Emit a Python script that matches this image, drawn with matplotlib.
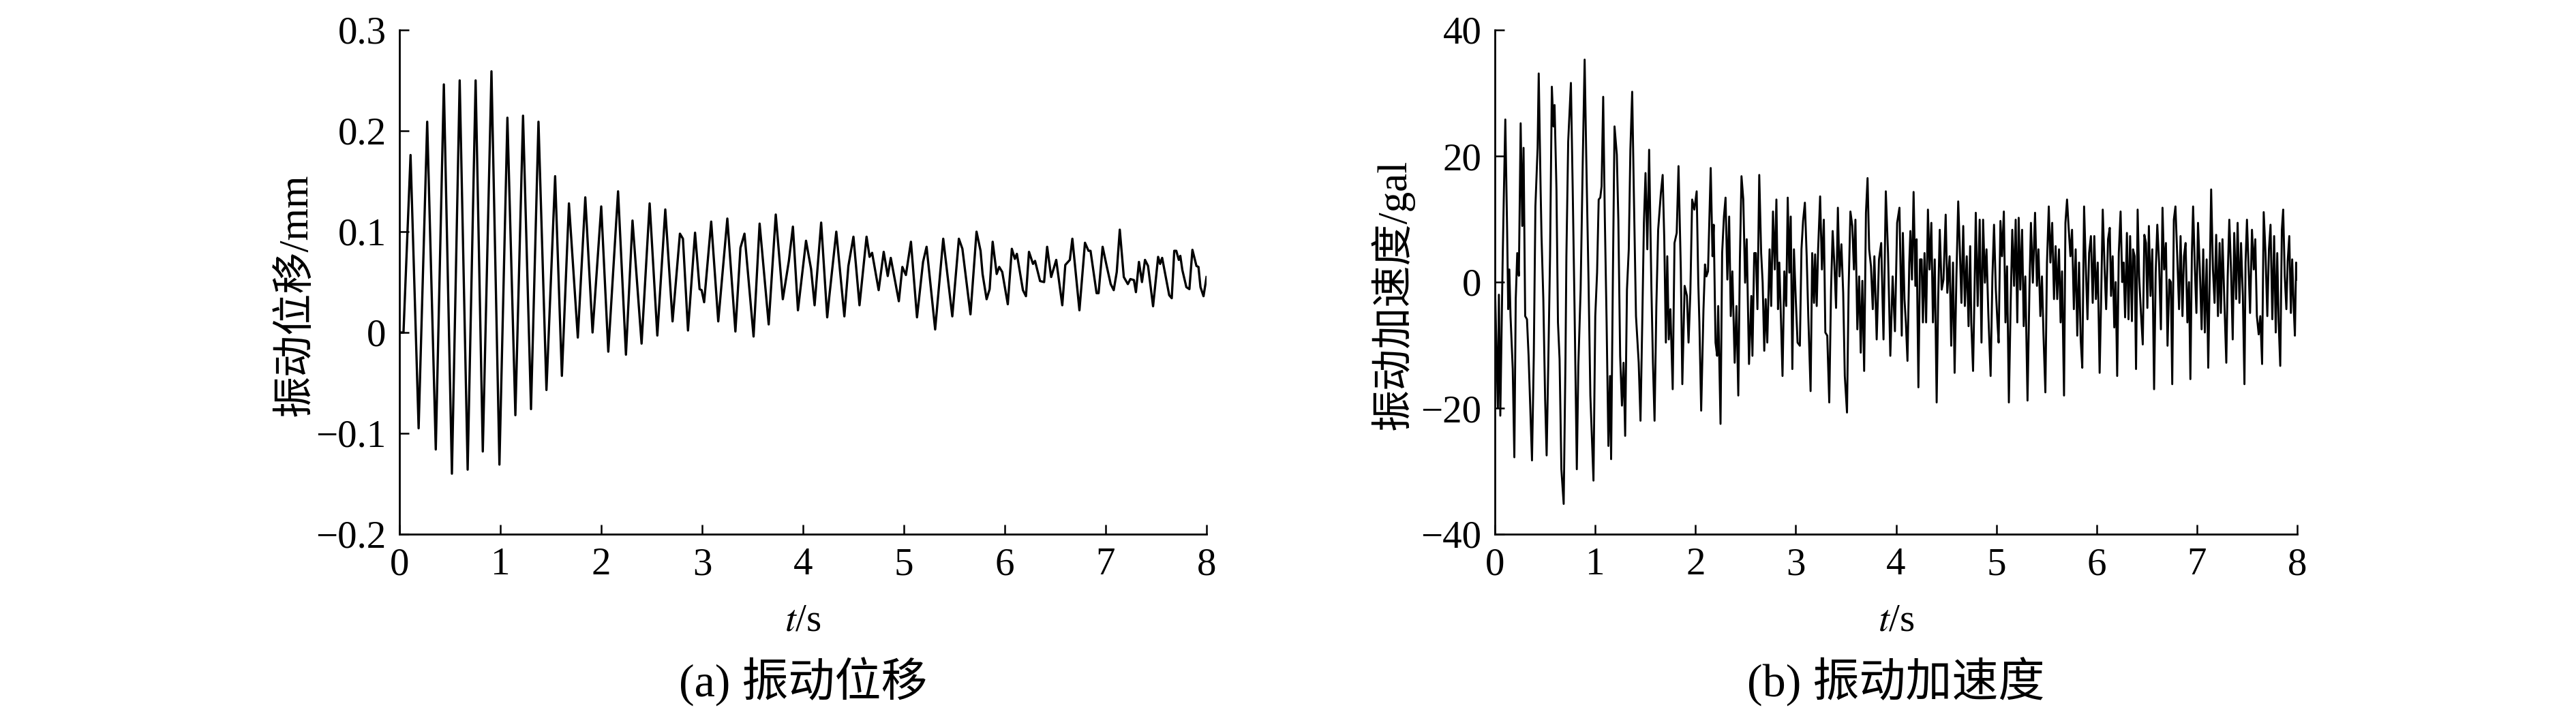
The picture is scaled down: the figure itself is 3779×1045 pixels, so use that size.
import matplotlib
matplotlib.use("Agg")
import matplotlib.pyplot as plt
from matplotlib.ticker import FuncFormatter

plt.rcParams['font.family'] = ['Liberation Serif', 'Noto Sans CJK SC']
plt.rcParams['mathtext.fontset'] = 'stix'
plt.rcParams['axes.unicode_minus'] = True

# (a) vibration displacement: time (s), displacement (mm)
disp_t = [0.00, 0.04, 0.11, 0.19, 0.275, 0.36, 0.44, 0.52, 0.597, 0.676, 0.755, 0.826, 0.912, 0.991,
          1.07, 1.149, 1.225, 1.304, 1.378, 1.457, 1.543, 1.61, 1.68, 1.768, 1.842, 1.914,
          2.00, 2.07, 2.167, 2.245, 2.31, 2.40, 2.48, 2.556, 2.635, 2.707, 2.78, 2.81, 2.86, 2.93,
          2.975, 2.995, 3.02, 3.09, 3.16, 3.25, 3.33, 3.38, 3.42, 3.51, 3.57, 3.66, 3.73, 3.80,
          3.86, 3.90, 3.95, 4.03, 4.08, 4.115, 4.18, 4.24, 4.26, 4.33, 4.41, 4.45, 4.50, 4.56,
          4.63, 4.66, 4.685, 4.75, 4.80, 4.84, 4.87, 4.95, 4.985, 5.02, 5.07, 5.13, 5.19, 5.225,
          5.31, 5.39, 5.48, 5.545, 5.58, 5.66, 5.72, 5.76, 5.78, 5.82, 5.85, 5.88, 5.92, 5.945,
          5.975, 6.03, 6.07, 6.10, 6.12, 6.18, 6.21, 6.24, 6.28, 6.30, 6.35, 6.39, 6.42, 6.46,
          6.51, 6.57, 6.60, 6.645, 6.67, 6.74, 6.795, 6.83, 6.85, 6.91, 6.93, 6.97, 7.01, 7.05,
          7.08, 7.11, 7.14, 7.18, 7.22, 7.245, 7.28, 7.30, 7.33, 7.36, 7.39, 7.42, 7.47, 7.52,
          7.54, 7.56, 7.63, 7.655, 7.68, 7.70, 7.725, 7.74, 7.76, 7.80, 7.83, 7.86, 7.90, 7.92,
          7.94, 7.97, 8.00]
disp_v = [0.0, 0.0, 0.176, -0.095, 0.209, -0.116, 0.246, -0.140, 0.250, -0.136, 0.250, -0.118, 0.259, -0.131,
          0.213, -0.082, 0.215, -0.076, 0.209, -0.057, 0.155, -0.043, 0.128, -0.005, 0.134, 0.000,
          0.125, -0.019, 0.140, -0.022, 0.111, -0.011, 0.128, -0.003, 0.122, 0.011, 0.098, 0.093, 0.002, 0.099,
          0.043, 0.042, 0.030, 0.110, 0.011, 0.113, 0.001, 0.084, 0.098, -0.004, 0.108, 0.008, 0.117, 0.033,
          0.071, 0.105, 0.022, 0.091, 0.063, 0.027, 0.109, 0.015, 0.035, 0.100, 0.016, 0.066, 0.095, 0.027,
          0.095, 0.075, 0.079, 0.042, 0.080, 0.056, 0.074, 0.031, 0.065, 0.057, 0.090, 0.015, 0.070, 0.085,
          0.003, 0.093, 0.016, 0.093, 0.083, 0.018, 0.100, 0.081, 0.058, 0.033, 0.043, 0.090, 0.058, 0.065,
          0.060, 0.028, 0.083, 0.073, 0.078, 0.042, 0.036, 0.080, 0.068, 0.071, 0.051, 0.050, 0.085, 0.055,
          0.072, 0.027, 0.067, 0.072, 0.093, 0.022, 0.089, 0.081, 0.081, 0.039, 0.039, 0.085, 0.066, 0.048,
          0.042, 0.060, 0.102, 0.055, 0.048, 0.053, 0.052, 0.040, 0.070, 0.050, 0.072, 0.066, 0.026, 0.075,
          0.068, 0.074, 0.037, 0.034, 0.081, 0.081, 0.072, 0.076, 0.062, 0.045, 0.043, 0.082, 0.066, 0.065,
          0.045, 0.036, 0.055]

# (b) vibration acceleration: time (s), acceleration (gal)
acc_t = [0.0, 0.03, 0.04, 0.054, 0.077, 0.088, 0.104, 0.122, 0.133, 0.144, 0.156, 0.178, 0.194, 0.208,
         0.223, 0.239, 0.257, 0.273, 0.286, 0.302, 0.320, 0.336, 0.370, 0.388, 0.404, 0.426, 0.437,
         0.456, 0.465, 0.483, 0.501, 0.516, 0.532, 0.550, 0.568, 0.584, 0.595, 0.614, 0.629, 0.645,
         0.663, 0.686, 0.704, 0.713, 0.731, 0.758, 0.776, 0.794, 0.817, 0.832, 0.855, 0.877, 0.895,
         0.911, 0.934, 0.952, 0.983, 1.001, 1.019, 1.035, 1.051, 1.064, 1.080, 1.096, 1.114, 1.132,
         1.148, 1.159, 1.177, 1.193, 1.216, 1.231, 1.249, 1.267, 1.283, 1.299, 1.317, 1.335, 1.351,
         1.369, 1.385, 1.407, 1.434, 1.452, 1.470, 1.486, 1.502, 1.520, 1.538, 1.561, 1.576, 1.592,
         1.610, 1.628, 1.655, 1.673, 1.689, 1.705, 1.719, 1.734, 1.750, 1.773, 1.791, 1.813, 1.831,
         1.854, 1.869, 1.892, 1.915, 1.931, 1.949, 1.967, 1.989, 2.012, 2.028, 2.039, 2.057,
         2.080, 2.095, 2.109, 2.125, 2.136, 2.152, 2.170, 2.182, 2.200, 2.216, 2.227, 2.250, 2.266,
         2.284, 2.300, 2.318, 2.336, 2.352, 2.368, 2.391, 2.409, 2.427, 2.443, 2.459, 2.477, 2.495,
         2.511, 2.534, 2.557, 2.568, 2.586, 2.602, 2.618, 2.636, 2.655, 2.670, 2.686, 2.700, 2.716,
         2.739, 2.755, 2.773, 2.791, 2.807, 2.823, 2.836, 2.852, 2.868, 2.886, 2.905, 2.920, 2.936,
         2.950, 2.966, 2.982, 3.000, 3.018, 3.041, 3.057, 3.073, 3.091, 3.109, 3.125, 3.148, 3.164,
         3.182, 3.193, 3.209, 3.223, 3.243, 3.261, 3.280, 3.295, 3.314, 3.334, 3.352, 3.368, 3.386,
         3.402, 3.420, 3.436, 3.455, 3.473, 3.489, 3.511, 3.527, 3.545, 3.564, 3.580, 3.595, 3.614,
         3.632, 3.648, 3.664, 3.682, 3.700, 3.716, 3.732, 3.750, 3.768, 3.784, 3.807, 3.830, 3.852,
         3.875, 3.898, 3.920, 3.943, 3.966, 3.989, 4.011, 4.034, 4.057, 4.068,
         4.084, 4.098, 4.114, 4.132, 4.143, 4.159, 4.175, 4.193, 4.205, 4.223, 4.239, 4.255, 4.268,
         4.284, 4.300, 4.318, 4.334, 4.352, 4.368, 4.386, 4.405, 4.420, 4.436, 4.455, 4.473, 4.495,
         4.511, 4.534, 4.550, 4.568, 4.584, 4.602, 4.620, 4.636, 4.652, 4.670, 4.686, 4.705, 4.723,
         4.739, 4.750, 4.768, 4.784, 4.795, 4.814, 4.834, 4.852, 4.868, 4.886, 4.902, 4.920, 4.943,
         4.961, 4.977, 4.995, 5.011, 5.023, 5.041, 5.057, 5.075, 5.091, 5.107, 5.125, 5.143, 5.159,
         5.177, 5.193, 5.209, 5.223, 5.239, 5.257, 5.273, 5.289, 5.311, 5.330, 5.345, 5.364, 5.386,
         5.405, 5.420, 5.439, 5.455, 5.470, 5.489, 5.505, 5.523, 5.539, 5.557, 5.575, 5.591, 5.607,
         5.625, 5.641, 5.655, 5.675, 5.689, 5.705, 5.720, 5.739, 5.755, 5.773, 5.791, 5.807, 5.825,
         5.841, 5.857, 5.875, 5.891, 5.909, 5.925, 5.943, 5.961, 5.977, 5.993, 6.011, 6.030, 6.045,
         6.061, 6.080, 6.095, 6.114,
         6.131, 6.144, 6.160, 6.176, 6.190, 6.205, 6.221, 6.239, 6.255, 6.269, 6.284, 6.302, 6.318,
         6.334, 6.352, 6.363, 6.379, 6.393, 6.409, 6.424, 6.442, 6.460, 6.476, 6.492, 6.506, 6.521,
         6.537, 6.555, 6.573, 6.589, 6.605, 6.623, 6.641, 6.657, 6.673, 6.691, 6.707, 6.725, 6.740,
         6.754, 6.770, 6.786, 6.804, 6.822, 6.837, 6.856, 6.871, 6.887, 6.905, 6.921, 6.935, 6.950,
         6.962, 6.980, 6.995, 7.011, 7.029, 7.047, 7.063, 7.079, 7.097, 7.113, 7.131, 7.142, 7.160,
         7.176, 7.192, 7.210, 7.226, 7.239, 7.255, 7.273, 7.293, 7.307, 7.323, 7.341, 7.357, 7.372,
         7.391, 7.406, 7.424, 7.440, 7.458, 7.474, 7.485, 7.499, 7.515, 7.530, 7.549, 7.567, 7.582,
         7.598, 7.616, 7.632, 7.650, 7.666, 7.684, 7.702, 7.718, 7.734, 7.752, 7.770, 7.786, 7.801,
         7.815, 7.831, 7.847, 7.860, 7.876, 7.892, 7.905, 7.921, 7.937, 7.950, 7.966, 7.977, 7.989,
         8.000]
acc_v = [0.0, -20.0, -2.0, -21.2, 3.0, 12.6, 25.8, 8.3, -4.3, 2.0, -5.4, -13.8, -27.8, -2.7,
         4.6, 1.0, 25.2, 8.9, 21.3, -5.4, -5.9, -11.7, -28.3, -11.7, 12.0, 21.3, 33.1,
         14.7, 7.3, -2.7, -18.6, -27.5, -13.3, 4.1, 31.0, 24.7, 28.1, 14.7, -6.4, -12.2,
         -29.7, -35.2, -12.2, 4.1, 22.3, 31.6, 14.7, -3.8, -29.7, -13.3, -1.2, 19.9, 35.3,
         19.9, 0.0, -18.0, -31.5, -5.4, 1.5, 13.1, 13.4, 15.2, 29.4, 10.4, -6.4, -26.0,
         -14.9, -28.1, 1.5, 24.7, 20.2, 9.9, -11.7, -19.6, -12.8, -24.4, -1.2, 5.2, 21.0,
         30.2, 14.7, -5.4, -12.8, -22.0, -5.9, 9.4, 17.3, 5.2, 21.0, -1.2, -12.8, -22.0,
         -3.8, 8.3, 14.1, 17.0, 6.8, -9.6, 4.1, -9.1, -4.3, -17.0, 6.2, 7.8, 18.4,
         2.0, -16.2, -0.6, -2.2, -9.6, -1.7, 13.1, 11.5, 14.4, 0.0, -6.4, -20.4,
         -4.3, 2.8, 0.9, 1.7, 8.3, 18.1, 4.1, 9.1, -9.6, -11.7, -3.8, -22.5, 4.6,
         10.4, 13.4, 0.4, 10.4, -5.4, 1.7, -12.8, -3.8, -18.0, 3.6, 16.8, 13.1, -0.1,
         6.8, -13.0, -2.2, -11.7, 4.6, 4.6, -4.3, 17.0, 4.6, -0.1, -10.9, -2.7, -9.6,
         5.2, -3.8, 11.2, 2.0, 13.1, -4.3, 3.1, -5.6, -14.9, 1.7, -3.8, 13.4, 1.5,
         10.4, -13.8, 5.2, -2.7, -9.6, -10.1, 5.2, 9.7, 12.6, 4.1, -5.4, -17.3, 4.6,
         -3.3, 4.4, -3.8, 5.2, 13.6, 2.0, 9.9, -8.0, -8.5, -19.1, -1.2, 8.1, 2.5,
         -4.1, 11.8, 0.9, 6.0, -1.7, -14.9, -20.7, -1.2, 11.2, 8.9, 2.0, 9.9, -7.5,
         0.9, -11.2, 0.2, -14.1, 11.0, 16.5, 5.2, 2.5, -4.3, 4.1, -9.1, 3.6, 6.2,
         -9.1, 14.4, 4.6, -11.7, 0.9, -7.8, 9.4, 11.8, -8.5, 7.8,
         -2.7, -6.4, -12.5, 3.1, 8.1, 0.4, 14.3, -0.6, 6.8, -16.7, 3.6, 3.6, -6.4,
         4.6, -6.4, 11.5, 2.0, 9.4, -6.4, 3.6, -19.1, -2.7, 8.3, -1.2, 0.4, 10.7,
         -1.7, 4.1, -10.1, 3.1, -14.4, 0.9, 12.8, 5.2, -3.3, 8.9, -3.8, 4.1, -7.0,
         5.7, -6.4, -14.1, -0.1, 11.0, -3.8, 9.9, -9.6, 9.9, -0.1, 5.2, -4.9, -14.9,
         0.9, 9.1, -1.2, -6.4, -9.6, 9.7, 4.1, 11.2, -6.4, 2.5, -19.1, -3.3, 8.3,
         -0.6, 9.9, -6.4, 10.2, -1.2, 8.3, -7.0, 0.9, -18.8, -1.2, 9.4, -0.1, 11.0,
         -0.6, 5.2, -5.4, 0.9, -8.3, -17.5, 3.1, 12.0, 3.1, 9.4, -2.7, 5.7, -2.7,
         5.2, -6.4, 1.7, -18.0, 9.4, 13.1, 8.9, 4.1, 8.3, -4.3, 5.2, -8.5, 3.1,
         -9.1, -13.6, 12.0, 3.1, -5.9, 4.6, 7.3, -3.3, 7.3, -2.7, 3.1, -14.4, -2.7,
         11.5, 2.0, -4.3, 6.8,
         8.6, -2.2, 4.1, -7.2, 0.0, -14.9, 4.6, 11.2, 0.0, 3.1, -5.6, 7.8, -5.9,
         7.3, -6.2, 5.2, 4.1, -13.8, 11.5, 0.9, -4.9, -9.9, 7.5, 6.2, -4.1, 8.9,
         -2.2, 5.2, -17.0, 1.5, 9.1, 3.1, -7.5, 11.8, 2.0, 6.2, -10.1, 0.4, 0.0,
         -16.2, 9.9, 12.0, 4.1, -4.3, 7.3, -5.4, 4.1, 6.2, -6.4, 0.0, -15.4, 4.6,
         12.0, 2.0, -4.9, 9.4, 2.0, -7.5, 5.2, -8.0, 3.6, -13.6, 4.1, 14.7, 2.0,
         -3.3, 7.5, -5.4, 6.2, -4.9, 6.8, -2.7, -12.8, 0.9, 9.9, 1.5, -9.1, 7.8,
         -2.7, 9.4, -3.3, 6.2, -2.2, -16.2, 3.1, 9.9, 2.5, -4.9, 8.3, 2.0, 6.8,
         -5.4, -8.3, -5.4, -13.0, 11.1, 4.6, -5.4, 5.2, 9.1, -5.9, 7.3, -8.0, 4.6,
         -6.4, -13.3, 8.3, 11.5, 0.9, -4.3, 3.3, 7.3, -4.9, 3.6, -4.3, -8.5, 3.1,
         0.4]

x_ticks = [0, 1, 2, 3, 4, 5, 6, 7, 8]
disp_yticks = [-0.2, -0.1, 0, 0.1, 0.2, 0.3]
acc_yticks = [-40, -20, 0, 20, 40]

fs = 41

fig = plt.figure(figsize=(37.8, 10.45), dpi=100)
bottom = 1 - 784 / 1045
height = (784 - 44) / 1045
ax1 = fig.add_axes([586 / 3780, bottom, (1770 - 586) / 3780, height])
ax2 = fig.add_axes([2193 / 3780, bottom, (3370 - 2193) / 3780, height])

ax1.plot(disp_t, disp_v, color='black', lw=2.4)
ax2.plot(acc_t, acc_v, color='black', lw=2.1)


def fmt(v, pos):
    s = '%g' % v
    return s.replace('-', '\u2212')


for ax, yt, ylab, cap in [(ax1, disp_yticks, '振动位移/mm', '(a) 振动位移'),
                          (ax2, acc_yticks, '振动加速度/gal', '(b) 振动加速度')]:
    ax.set_xlim(0, 8)
    ax.set_ylim(yt[0], yt[-1])
    ax.set_xticks(x_ticks)
    ax.set_yticks(yt)
    ax.yaxis.set_major_formatter(FuncFormatter(fmt))
    ax.spines['top'].set_visible(False)
    ax.spines['right'].set_visible(False)
    for s in ['left', 'bottom']:
        ax.spines[s].set_linewidth(2.0)
    ax.tick_params(direction='in', length=10, width=1.8, labelsize=fs, pad=14)
    ax.text(-0.128, 0.475, ylab, transform=ax.transAxes, rotation=90,
            ha='center', va='center', fontsize=44)
    ax.text(0.5, -0.172, '$t$/s', transform=ax.transAxes, ha='center', va='center', fontsize=fs)
    # subfigure caption, placed in figure coordinates under each panel
    bb = ax.get_position()
    fig.text((bb.x0 + bb.x1) / 2, 0.042, cap, ha='center', va='center', fontsize=49)

fig.savefig('out.png', dpi=100)
